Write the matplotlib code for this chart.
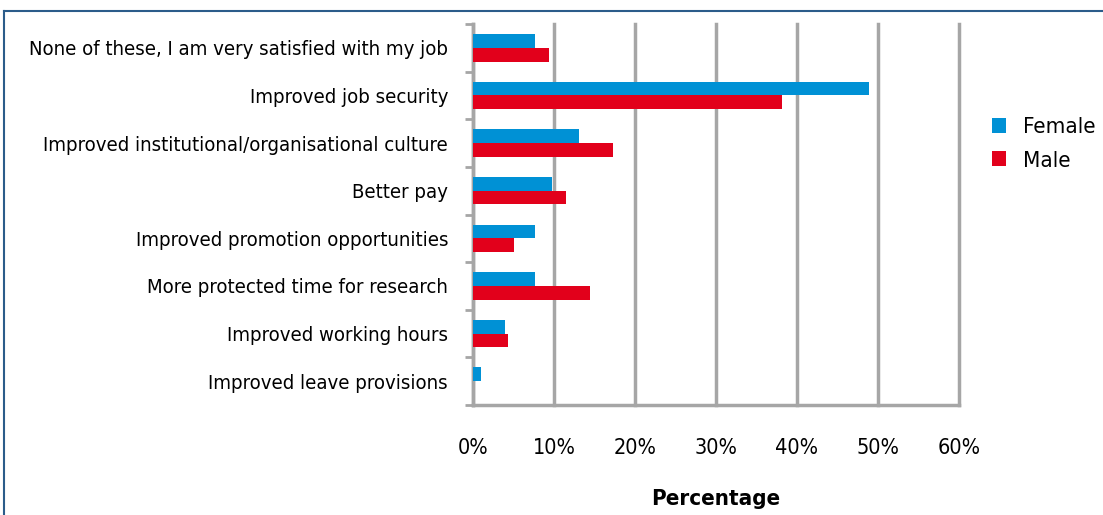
import numpy as np
import matplotlib
matplotlib.use('Agg')
from matplotlib import pyplot as plt
from matplotlib.lines import Line2D

categories = ['None of these, I am very satisfied with my job',
              'Improved job security',
              'Improved institutional/organisational culture',
              'Better pay',
              'Improved promotion opportunities',
              'More protected time for research',
              'Improved working hours',
              'Improved leave provisions']
female = [7.7, 48.9, 13.1, 9.8, 7.7, 7.7, 4.0, 1.0]
male = [9.4, 38.1, 17.3, 11.5, 5.0, 14.4, 4.3, 0.0]
xticks = [0, 10, 20, 30, 40, 50, 60]

blue = '#0091d5'
red = '#e2001b'
grey = '#a6a6a6'

plt.rcParams['font.family'] = ['DejaVu Sans']
plt.rcParams['font.stretch'] = 'condensed'

fig = plt.figure(figsize=(11.03, 5.15), dpi=100)
ax = fig.add_axes([473/1103, 1-405/515, (959-473)/1103, (405-24)/515])

y = np.arange(len(categories))
h = 0.29
ax.barh(y - h/2, female, height=h, color=blue, label='Female', zorder=3)
ax.barh(y + h/2, male, height=h, color=red, label='Male', zorder=3)

ax.set_xlim(0, 60)
ax.set_ylim(len(categories) - 0.5, -0.5)
ax.set_xticks(xticks)
ax.set_xticklabels(['%d%%' % t for t in xticks], fontsize=15.5)
ax.set_yticks(y)
ax.set_yticklabels(categories, fontsize=14.6)
ax.set_yticks(np.arange(len(categories) + 1) - 0.5, minor=True)
ax.tick_params(axis='y', which='major', length=0, pad=18)
ax.tick_params(axis='y', which='minor', length=6, width=2, color=grey, direction='out')
ax.tick_params(axis='x', length=0, pad=24)
ax.grid(axis='x', color=grey, linewidth=2.5, zorder=0)
for gl in ax.get_xgridlines():
    gl.set_clip_on(False)

for s in ['top', 'right']:
    ax.spines[s].set_visible(False)
for s in ['left', 'bottom']:
    ax.spines[s].set_color(grey)
    ax.spines[s].set_linewidth(2.5)

ax.set_xlabel('Percentage', fontsize=16, fontweight='bold', labelpad=22)

ax.legend(loc='upper left', bbox_to_anchor=(1.068, 0.755), frameon=False, fontsize=16,
          borderpad=0, borderaxespad=0,
          handlelength=0.65, handleheight=0.65, handletextpad=0.75, labelspacing=0.6)

# border round the figure (top and left visible)
fig.add_artist(Line2D([4/1103, 4/1103], [0, 1-11/515], color='#2b5c8a', linewidth=1.5))
fig.add_artist(Line2D([4/1103, 1], [1-11/515, 1-11/515], color='#2b5c8a', linewidth=1.5))

fig.savefig('out.png', dpi=100)
